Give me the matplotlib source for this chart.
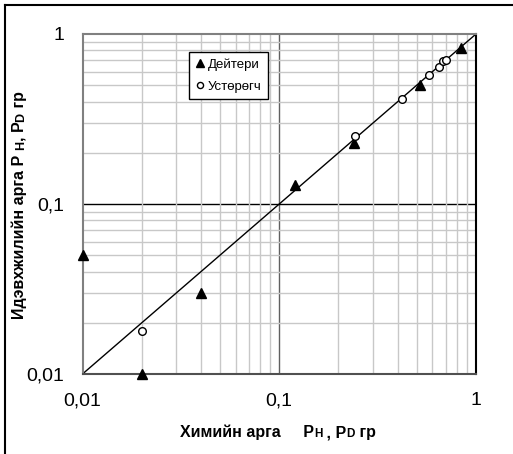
import matplotlib
matplotlib.use("Agg")
import matplotlib.pyplot as plt
from matplotlib.lines import Line2D

plt.rcParams['font.family'] = ['Liberation Sans', 'DejaVu Sans']

# Data
deut_x = [0.01, 0.02, 0.04, 0.12, 0.24, 0.52, 0.84]
deut_y = [0.05, 0.01, 0.03, 0.13, 0.23, 0.50, 0.83]
hyd_x = [0.02, 0.242, 0.42, 0.575, 0.645, 0.678, 0.705]
hyd_y = [0.018, 0.251, 0.413, 0.577, 0.637, 0.69, 0.70]
line_x = [0.01, 1.0]
line_y = [0.01, 1.0]
tick_vals = [0.01, 0.1, 1]
tick_labels = ["0,01", "0,1", "1"]
legend_labels = ["Дейтери", "Устөрөгч"]

W, H = 513, 454
fig = plt.figure(figsize=(W / 100, H / 100), dpi=100)
ax = fig.add_axes([82.5 / W, 1 - 374 / H, (476 - 82.5) / W, (374 - 34) / H])
ax.set_xscale('log')
ax.set_yscale('log')
ax.set_xlim(0.01, 1)
ax.set_ylim(0.01, 1)

# grid
ax.grid(True, which='minor', color='#c8c8c8', linewidth=1.0)
ax.grid(False, which='major')
ax.axvline(0.1, color='#606060', linewidth=1.0, zorder=1.5)
ax.axhline(0.1, color='black', linewidth=1.0, zorder=1.5)

ax.plot(line_x, line_y, color='black', linewidth=1.0, zorder=2)
ax.plot(deut_x, deut_y, linestyle='none', marker='^', markersize=7.5,
        color='black', clip_on=False, zorder=4, label=legend_labels[0])
ax.plot(hyd_x, hyd_y, linestyle='none', marker='o', markersize=5.5,
        markerfacecolor='white', markeredgecolor='black', markeredgewidth=1.0,
        clip_on=False, zorder=4, label=legend_labels[1])

ax.set_xticks(tick_vals)
ax.set_xticklabels(tick_labels)
ax.set_yticks(tick_vals)
ax.set_yticklabels(tick_labels)
ax.tick_params(which='both', length=0)
ax.tick_params(axis='x', pad=13, labelsize=14)
ax.tick_params(axis='y', pad=13, labelsize=14)
ax.xaxis.set_minor_formatter(plt.NullFormatter())
ax.yaxis.set_minor_formatter(plt.NullFormatter())

for s in ['left', 'top']:
    ax.spines[s].set_color('#808080')
    ax.spines[s].set_linewidth(1.5)
ax.spines['right'].set_color('black')
ax.spines['right'].set_linewidth(1.5)
ax.spines['bottom'].set_color('#505050')
ax.spines['bottom'].set_linewidth(1.5)

leg = ax.legend(loc='upper left', bbox_to_anchor=((189 - 82.5) / (476 - 82.5), (374 - 52) / 340),
                frameon=True, fancybox=False, framealpha=1, edgecolor='black',
                fontsize=9.5, handlelength=0.6, handletextpad=0.35, borderpad=0.5,
                labelspacing=0.7, borderaxespad=0, markerscale=0.8)
leg.get_frame().set_linewidth(1.0)

# axis labels built from pieces with smaller letters
fig.canvas.draw()
renderer = fig.canvas.get_renderer()

def pieces_h(parts, x0, y0):
    x = x0
    for txt, size in parts:
        t = fig.text(x, y0, txt, fontsize=size, fontweight='bold', ha='left',
                     va='baseline', transform=None)
        bb = t.get_window_extent(renderer)
        x = bb.x1

def pieces_v(parts, x0, y0):
    y = y0
    for txt, size in parts:
        t = fig.text(x0, y, txt, fontsize=size, fontweight='bold', ha='left',
                     va='baseline', rotation=90, rotation_mode='anchor', transform=None)
        bb = t.get_window_extent(renderer)
        y = bb.y1

xparts = [("Химийн арга     P", 11.5), ("Н", 8.5), (" , P", 11.5), ("D", 8.5), (" гр", 11.5)]
yparts = [("Идэвхжилийн арга P ", 11.5), ("Н", 9), (", P", 11.5), ("D", 9), (" гр", 11.5)]
pieces_h(xparts, 180, H - 437)
pieces_v(yparts, 24, H - 319)

# figure border (left and top)
fig.add_artist(Line2D([5 / W, 5 / W], [0, 1 - 5 / H], transform=fig.transFigure,
                      color='black', linewidth=1.5))
fig.add_artist(Line2D([5 / W, 1], [1 - 5 / H, 1 - 5 / H], transform=fig.transFigure,
                      color='black', linewidth=1.5))

fig.savefig('out.png', dpi=100)
